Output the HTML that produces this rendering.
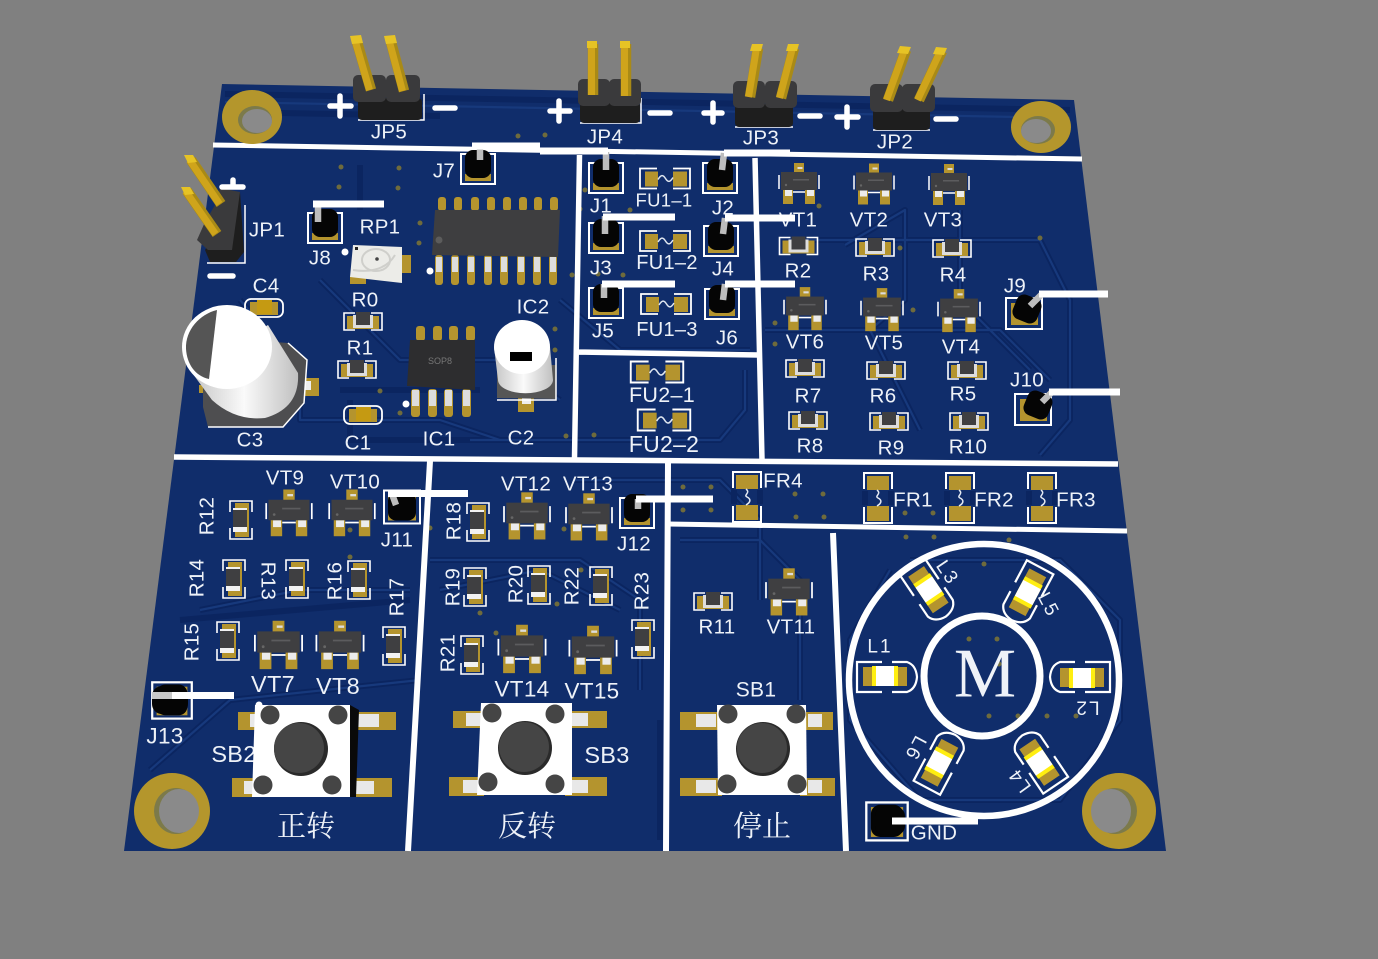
<!DOCTYPE html>
<html><head><meta charset="utf-8">
<style>
html,body{margin:0;padding:0;background:#808080}
svg{display:block}
text{font-family:"Liberation Sans","Noto Sans CJK SC",sans-serif;fill:#eef2f8;font-size:20.5px;text-anchor:middle;dominant-baseline:central;letter-spacing:.3px}
.s{font-size:19px;letter-spacing:2px}
.b{font-size:23.5px}
.c{font-family:"Liberation Serif","Noto Serif CJK SC",serif;font-size:29px;letter-spacing:0}
</style></head><body>
<svg width="1378" height="959" viewBox="0 0 1378 959" xmlns="http://www.w3.org/2000/svg">
<defs>
<linearGradient id="cy" x1="0" y1="0" x2="1" y2="0"><stop offset="0" stop-color="#c4c4c4"/><stop offset=".5" stop-color="#fafafa"/><stop offset="1" stop-color="#c0c0c0"/></linearGradient>
<g id="r"><path d="M-8,-8H-19V9H-8M8,-8H19V9H8" fill="none" stroke="#fff" stroke-width="1.6"/><rect x="-16" y="-5" width="32" height="13" fill="#b4942e"/><rect x="-10" y="-6" width="20" height="13" fill="#ddd"/><rect x="-7" y="-9" width="14" height="13" fill="#3f3f41"/></g>
<g id="v"><path d="M-11,-8V-19H11V-8M-11,8V19H11V8" fill="none" stroke="#fff" stroke-width="1.6"/><rect x="-6" y="-17" width="14" height="34" fill="#b4942e"/><rect x="-8" y="-12" width="14" height="24" fill="#f2f2f2"/><rect x="-8" y="-10" width="14" height="17" fill="#3f3f41"/></g>
<g id="c"><rect x="-19" y="-9" width="38" height="18" rx="6" fill="none" stroke="#fff" stroke-width="1.8"/><rect x="-14" y="-6" width="28" height="13" fill="#b4942e"/><rect x="-7" y="-8" width="15" height="14" fill="#c59a12"/></g>
<g id="q"><path d="M-20,-6V8M20,-6V8" fill="none" stroke="#fff" stroke-width="1.5"/><path d="M-6,11H6" stroke="#fff" stroke-width="1.5"/><rect x="-5" y="-18" width="10" height="10" fill="#b4942e"/><rect x="-1.5" y="-14" width="5" height="2" fill="#ddd"/><rect x="-16" y="8" width="10" height="15" fill="#b4942e"/><rect x="6" y="8" width="10" height="15" fill="#b4942e"/><rect x="-14" y="9" width="7" height="6" fill="#ececec"/><rect x="8" y="9" width="7" height="6" fill="#ececec"/><rect x="-18" y="-9" width="36" height="18" fill="#3f3f41"/><circle cx="-13" cy="4" r="1.2" fill="#666"/><rect x="-6" y="-2" width="16" height="1.5" fill="#5c5c5e"/></g>
<g id="f"><path d="M-8,-10H-25V10H-8M8,-10H25V10H8" fill="none" stroke="#fff" stroke-width="1.8"/><rect x="-20" y="-7" width="13" height="15" fill="#b4942e"/><rect x="8" y="-7" width="14" height="15" fill="#b4942e"/><path d="M-7,1C-4,-4 -2,-4 0.5,0S5,4 8,-1" fill="none" stroke="#dfe6f0" stroke-width="1.5"/></g>
<g id="fr"><path d="M-14,-9V-25H14V-9M-14,9V25H14V9" fill="none" stroke="#fff" stroke-width="2"/><rect x="-11" y="-22" width="22" height="14" fill="#b4942e"/><rect x="-11" y="8" width="22" height="15" fill="#b4942e"/><path d="M-16,-7H-10V7H-16ZM16,-7H10V7H16Z" fill="#0b2560"/><path d="M-1,-8C4,-4 -4,-2 0,0S4,5 -1,8" fill="none" stroke="#e5eaf2" stroke-width="1.5"/></g>
<g id="j"><rect x="-17" y="-15" width="34" height="30" fill="none" stroke="#fff" stroke-width="2"/><rect x="-13" y="5" width="26" height="7" fill="#b4942e"/><rect x="-13" y="-19" width="26" height="28" rx="8" fill="#050505"/></g>
<g id="k"><rect x="-18" y="-17" width="36" height="33" fill="none" stroke="#fff" stroke-width="2"/><rect x="-14" y="-13" width="28" height="26" fill="#b4942e"/><rect x="-14" y="-15" width="28" height="28" rx="8" fill="#050505"/></g>
<g id="l"><path d="M-3,-15H-28V15H-3M7,-15H22Q31,-12 32,0Q31,12 22,15H7" fill="none" stroke="#fff" stroke-width="2.2"/><rect x="-22" y="-10" width="44" height="19" fill="#b4942e"/><rect x="-13" y="-11" width="26" height="20" fill="#ffee10"/><rect x="-9" y="-11" width="18" height="20" fill="#fff"/></g>
</defs>
<rect width="1378" height="959" fill="#808080"/>
<polygon points="222,84 1074,100 1166,851 124,851" fill="#102d6b"/>
<!-- traces -->
<g fill="none" stroke-linejoin="round">
<g stroke="#0b2560" stroke-width="6">
<path d="M225,94L1070,110M225,112L440,116M575,480H720L760,520V600M430,560H580L640,600V690M200,610L300,590H410M150,770L230,700L420,680M560,300L620,350H750M320,280L400,360H500L560,400M240,300L300,370V420H440L500,440M800,240H1040M1040,240L1070,300V420L1040,455M765,330H1000L1050,380M890,570L850,640V720L920,800H1060L1120,720V620L1060,560H910M360,165V210M680,540H760L800,580V700M470,440H720L745,410V370M440,590L540,570L620,610M660,720V840M180,620L410,600M340,390H480M350,400V440H470M845,245L905,210V300L870,330L920,430M960,210V300L1030,370"/>
</g>
<g stroke="#17397c" stroke-width="2.2">
<path d="M225,102L1070,118M575,480H720L760,520V600M430,560H580L640,600V690M200,610L300,590H410M150,770L230,700L420,680M560,300L620,350H750M320,280L400,360H500L560,400M240,300L300,370V420H440L500,440M800,240H1040M1040,240L1070,300V420L1040,455M765,330H1000L1050,380M890,570L850,640V720L920,800H1060L1120,720V620L1060,560H910M680,540H760L800,580V700M470,440H720L745,410V370M440,590L540,570L620,610M845,245L905,210V300L870,330L920,430M960,210V300L1030,370"/>
</g></g>
<!-- vias -->
<g fill="#6f6b3c">
<circle cx="341" cy="167" r="2.5"/><circle cx="399" cy="168" r="2.5"/><circle cx="339" cy="187" r="2.5"/><circle cx="398" cy="188" r="2.5"/><circle cx="420" cy="223" r="2.5"/><circle cx="419" cy="243" r="2.5"/><circle cx="580" cy="209" r="2.5"/><circle cx="572" cy="275" r="2.5"/><circle cx="555" cy="329" r="2.5"/><circle cx="555" cy="350" r="2.5"/><circle cx="380" cy="391" r="2.5"/><circle cx="400" cy="413" r="2.5"/><circle cx="566" cy="436" r="2.5"/><circle cx="594" cy="435" r="2.5"/><circle cx="518" cy="136" r="2.5"/><circle cx="545" cy="135" r="2.5"/><circle cx="683" cy="487" r="2.5"/><circle cx="711" cy="487" r="2.5"/><circle cx="683" cy="510" r="2.5"/><circle cx="711" cy="510" r="2.5"/><circle cx="795" cy="494" r="2.5"/><circle cx="823" cy="494" r="2.5"/><circle cx="796" cy="517" r="2.5"/><circle cx="824" cy="517" r="2.5"/><circle cx="905" cy="513" r="2.5"/><circle cx="933" cy="513" r="2.5"/><circle cx="906" cy="537" r="2.5"/><circle cx="934" cy="537" r="2.5"/><circle cx="1009" cy="540" r="2.5"/><circle cx="984" cy="564" r="2.5"/><circle cx="969" cy="639" r="2.5"/><circle cx="997" cy="639" r="2.5"/><circle cx="971" cy="664" r="2.5"/><circle cx="999" cy="664" r="2.5"/><circle cx="989" cy="716" r="2.5"/><circle cx="1018" cy="716" r="2.5"/><circle cx="1047" cy="716" r="2.5"/><circle cx="1076" cy="716" r="2.5"/><circle cx="900" cy="248" r="2.5"/><circle cx="1040" cy="238" r="2.5"/><circle cx="913" cy="310" r="2.5"/><circle cx="819" cy="206" r="2.5"/><circle cx="775" cy="323" r="2.5"/><circle cx="775" cy="344" r="2.5"/><circle cx="564" cy="529" r="2.5"/><circle cx="480" cy="613" r="2.5"/><circle cx="557" cy="604" r="2.5"/><circle cx="496" cy="633" r="2.5"/><circle cx="581" cy="570" r="2.5"/><circle cx="585" cy="190" r="2.5"/><circle cx="630" cy="210" r="2.5"/><circle cx="598" cy="274" r="2.5"/><circle cx="623" cy="275" r="2.5"/><circle cx="350" cy="557" r="2.5"/><circle cx="430" cy="528" r="2.5"/><circle cx="350" cy="530" r="2.5"/>
</g>
<!-- silkscreen lines -->
<g stroke="#fff" fill="none">
<path d="M213,145L1082,159" stroke-width="5"/>
<path d="M174,457L1118,464" stroke-width="5.5"/>
<path d="M579.5,155L574.5,458M755,158L762,460M578,352L758,355" stroke-width="5.5"/>
<path d="M430,461L408,851M668,463L666,851M833,533L846,851" stroke-width="6"/>
<path d="M668,524L1127,531" stroke-width="5"/>
<ellipse cx="984" cy="680" rx="135" ry="136" stroke-width="6.5"/>
<ellipse cx="982" cy="676" rx="58" ry="60" stroke-width="7"/>
</g>
<!-- mounting holes -->
<ellipse cx="252" cy="117" rx="30" ry="27" fill="#b4962c"/><ellipse cx="255" cy="120" rx="17" ry="14" fill="#7c7a4a"/><ellipse cx="257" cy="121" rx="15" ry="12" fill="#8a8a8a"/>
<ellipse cx="1041" cy="127" rx="30" ry="26" fill="#b4962c"/><ellipse cx="1038" cy="130" rx="17" ry="14" fill="#7c7a4a"/><ellipse cx="1036" cy="131" rx="15" ry="12" fill="#8a8a8a"/>
<ellipse cx="172" cy="811" rx="38" ry="38" fill="#b4962c"/><ellipse cx="176" cy="811" rx="22" ry="23" fill="#7c7a4a"/><ellipse cx="179" cy="811" rx="20" ry="22" fill="#8a8a8a"/>
<ellipse cx="1119" cy="811" rx="37" ry="38" fill="#b4962c"/><ellipse cx="1115" cy="811" rx="22" ry="23" fill="#7c7a4a"/><ellipse cx="1111" cy="811" rx="20" ry="22" fill="#8a8a8a"/>
<!-- SOT -->
<use href="#q" transform="translate(799,181)"/><use href="#q" transform="translate(874,181.5)"/><use href="#q" transform="translate(949,182)"/>
<use href="#q" transform="translate(805,306) scale(1.05)"/><use href="#q" transform="translate(882,307) scale(1.05)"/><use href="#q" transform="translate(959,308) scale(1.05)"/>
<use href="#q" transform="translate(289,510) scale(1.14)"/><use href="#q" transform="translate(352,510) scale(1.14)"/><use href="#q" transform="translate(278.5,642) scale(1.18)"/><use href="#q" transform="translate(340,642) scale(1.18)"/>
<use href="#q" transform="translate(527,513) scale(1.15)"/><use href="#q" transform="translate(589,514) scale(1.15)"/><use href="#q" transform="translate(522,646) scale(1.18)"/><use href="#q" transform="translate(593,647) scale(1.18)"/><use href="#q" transform="translate(789,589) scale(1.15)"/>
<!-- horizontal R -->
<use href="#r" x="798.5" y="245.5"/><use href="#r" x="875" y="247"/><use href="#r" x="952" y="248"/>
<use href="#r" x="805" y="368"/><use href="#r" x="886" y="370"/><use href="#r" x="967" y="370"/>
<use href="#r" x="808" y="420"/><use href="#r" x="889" y="421"/><use href="#r" x="969" y="421"/>
<use href="#r" x="713" y="601"/><use href="#r" x="363" y="321"/><use href="#r" x="357" y="369"/>
<use href="#c" x="363" y="415"/><use href="#c" x="264" y="308"/>
<!-- vertical R -->
<use href="#v" x="241" y="520"/><use href="#v" x="234" y="579"/><use href="#v" x="297" y="579"/><use href="#v" x="359" y="580"/><use href="#v" x="228" y="641"/><use href="#v" x="394" y="646"/>
<use href="#v" x="478" y="522"/><use href="#v" x="475" y="587"/><use href="#v" x="539" y="585"/><use href="#v" x="601" y="586"/><use href="#v" x="643" y="639"/><use href="#v" x="472" y="655"/>
<!-- fuses -->
<use href="#f" x="665" y="178.5"/><use href="#f" x="665" y="241"/><use href="#f" x="666" y="304"/><use href="#f" transform="translate(657,372) scale(1.05)"/><use href="#f" transform="translate(664,420) scale(1.05)"/>
<use href="#fr" x="747" y="497"/><use href="#fr" x="878" y="498"/><use href="#fr" x="960" y="498"/><use href="#fr" x="1042" y="498"/>
<!-- LEDs -->
<use href="#l" x="885" y="677"/><use href="#l" transform="translate(1082,677) rotate(180)"/>
<use href="#l" transform="translate(928,590) rotate(56)"/><use href="#l" transform="translate(1027,592) rotate(118)"/>
<use href="#l" transform="translate(940,763) rotate(-62)"/><use href="#l" transform="translate(1040,762) rotate(-124)"/>
<!-- SOP16 -->
<g fill="#b4942e">
<rect x="438" y="197" width="8" height="14" rx="3"/><rect x="454" y="197" width="8" height="14" rx="3"/><rect x="471" y="197" width="8" height="14" rx="3"/><rect x="487" y="197" width="8" height="14" rx="3"/><rect x="503" y="197" width="8" height="14" rx="3"/><rect x="519" y="197" width="8" height="14" rx="3"/><rect x="534" y="197" width="8" height="14" rx="3"/><rect x="550" y="197" width="8" height="14" rx="3"/>
<rect x="435" y="255" width="8" height="30" rx="3"/><rect x="451" y="255" width="8" height="30" rx="3"/><rect x="467" y="255" width="8" height="30" rx="3"/><rect x="484" y="255" width="8" height="30" rx="3"/><rect x="500" y="255" width="8" height="30" rx="3"/><rect x="517" y="255" width="8" height="30" rx="3"/><rect x="533" y="255" width="8" height="30" rx="3"/><rect x="549" y="255" width="8" height="30" rx="3"/>
</g>
<g fill="#ddd"><rect x="436" y="257" width="6" height="15"/><rect x="452" y="257" width="6" height="15"/><rect x="468" y="257" width="6" height="15"/><rect x="485" y="257" width="6" height="15"/><rect x="501" y="257" width="6" height="15"/><rect x="518" y="257" width="6" height="15"/><rect x="534" y="257" width="6" height="15"/><rect x="550" y="257" width="6" height="15"/></g>
<polygon points="435,210 560,210 558,257 432,255" fill="#3e3e40"/>
<circle cx="439" cy="240" r="3.5" fill="#5c5c5c"/>
<circle cx="430" cy="271" r="3.5" fill="#fff"/>
<!-- SOP8 -->
<g fill="#b4942e"><rect x="416" y="326" width="9" height="15" rx="3"/><rect x="433" y="326" width="9" height="15" rx="3"/><rect x="449" y="326" width="9" height="15" rx="3"/><rect x="466" y="326" width="9" height="15" rx="3"/><rect x="411" y="389" width="9" height="28" rx="3"/><rect x="428" y="389" width="9" height="28" rx="3"/><rect x="444" y="389" width="9" height="28" rx="3"/><rect x="462" y="389" width="9" height="28" rx="3"/></g>
<g fill="#ddd"><rect x="412" y="390" width="7" height="16"/><rect x="429" y="390" width="7" height="16"/><rect x="445" y="390" width="7" height="16"/><rect x="463" y="390" width="7" height="16"/></g>
<polygon points="410,340 475,340 475,390 407,386" fill="#2d2d2f"/>
<circle cx="406" cy="404" r="3.5" fill="#fff"/>
<text x="440" y="361" style="font-size:9px;fill:#777;letter-spacing:0">SOP8</text>
<!-- C2 cap -->
<rect x="518" y="397" width="16" height="15" fill="#b4942e"/><rect x="522" y="398" width="9" height="6" fill="#eee"/>
<path d="M497,398V365H556V399Z" fill="#565656"/><path d="M556,358V400H497" fill="none" stroke="#fff" stroke-width="1.5"/>
<path d="M494,347L498,380A27,13 0 0 0 553,380L550,347Z" fill="url(#cy)"/>
<ellipse cx="522" cy="347" rx="28" ry="27" fill="#fff"/>
<rect x="510" y="352" width="22" height="9" fill="#000"/>
<!-- C3 -->
<rect x="199" y="385" width="8" height="8" fill="#b4942e"/>
<rect x="301" y="378" width="18" height="18" fill="#b4942e"/><rect x="301" y="381" width="10" height="9" fill="#eee"/>
<polygon points="288,343 307,360 304,403 283,427 208,427 203,407 203,385 250,340" fill="#4e4e50"/>
<path d="M288,343L307,360L304,403L283,427H208" fill="none" stroke="#fff" stroke-width="1.5"/>
<path d="M190,370L212,400Q235,421 265,418Q300,408 298,373L268,325Z" fill="url(#cy)"/>
<ellipse cx="227" cy="347" rx="45" ry="42" fill="#fff"/>
<path d="M217,310L209,379C195,376 187,364 186,349C185,330 200,314 217,310Z" fill="#555"/>
<!-- RP1 -->
<rect x="350" y="276" width="16" height="8" fill="#b4942e"/><rect x="402" y="255" width="9" height="18" fill="#b4942e"/>
<polygon points="353,245 402,247 402,283 350,277" fill="#ecece8"/>
<ellipse cx="376" cy="260" rx="14" ry="11" fill="none" stroke="#cfcfcb" stroke-width="2"/><path d="M353,270C365,272 385,272 395,255" fill="none" stroke="#cfcfcb" stroke-width="2"/><circle cx="377" cy="259" r="1.8" fill="#444"/><rect x="355" y="247" width="3" height="3" fill="#222"/>
<circle cx="345" cy="252" r="3.5" fill="#fff"/>
<text class="b" x="234" y="754">SB2</text>
<!-- Buttons -->
<g fill="#b4942e">
<rect x="238" y="712" width="30" height="18"/><rect x="350" y="712" width="46" height="18"/><rect x="232" y="778" width="30" height="19"/><rect x="346" y="778" width="46" height="19"/>
<rect x="453" y="711" width="35" height="17"/><rect x="566" y="711" width="41" height="17"/><rect x="449" y="777" width="35" height="19"/><rect x="565" y="777" width="42" height="19"/>
<rect x="680" y="712" width="42" height="18"/><rect x="801" y="712" width="32" height="18"/><rect x="680" y="778" width="42" height="18"/><rect x="800" y="778" width="35" height="18"/>
</g>
<g fill="#e8e8e8"><rect x="357" y="714" width="22" height="13"/><rect x="352" y="781" width="22" height="13"/><rect x="250" y="714" width="10" height="13"/><rect x="244" y="781" width="12" height="13"/><rect x="466" y="713" width="16" height="13"/><rect x="572" y="713" width="16" height="13"/><rect x="463" y="780" width="16" height="13"/><rect x="572" y="780" width="16" height="13"/><rect x="696" y="714" width="20" height="13"/><rect x="808" y="714" width="14" height="13"/><rect x="696" y="780" width="20" height="13"/><rect x="808" y="780" width="14" height="13"/></g>
<polygon points="350,705 359,710 356,797 345,797" fill="#0a0a0a"/>
<polygon points="255,705 350,705 350,797 252,797" fill="#fff"/>
<circle cx="270" cy="715" r="9.5" fill="#454545"/><circle cx="338" cy="715" r="9.5" fill="#454545"/><circle cx="263" cy="785" r="9.5" fill="#454545"/><circle cx="332" cy="785" r="9.5" fill="#454545"/>
<circle cx="301" cy="749" r="27" fill="#2a2a2a"/><circle cx="299" cy="748" r="25" fill="#454545"/>
<polygon points="481,703 572,703 572,795 477,795" fill="#fff"/>
<circle cx="492" cy="713" r="9.5" fill="#454545"/><circle cx="555" cy="714" r="9.5" fill="#454545"/><circle cx="488" cy="782" r="9.5" fill="#454545"/><circle cx="555" cy="784" r="9.5" fill="#454545"/>
<circle cx="525" cy="748" r="27" fill="#2a2a2a"/><circle cx="524" cy="747" r="25" fill="#454545"/>
<polygon points="717,705 806,705 807,795 718,795" fill="#fff"/>
<circle cx="728" cy="714" r="9.5" fill="#454545"/><circle cx="796" cy="714" r="9.5" fill="#454545"/><circle cx="727" cy="784" r="9.5" fill="#454545"/><circle cx="797" cy="784" r="9.5" fill="#454545"/>
<circle cx="763" cy="749" r="27" fill="#2a2a2a"/><circle cx="762" cy="748" r="25" fill="#454545"/>
<!-- Jumpers -->
<use href="#j" x="478" y="169"/><use href="#j" x="606" y="178"/><use href="#j" x="720" y="178"/><use href="#j" x="606" y="238"/><use href="#j" x="721" y="241"/><use href="#j" x="606" y="303"/><use href="#j" x="722" y="304"/><use href="#j" x="325" y="228"/><use href="#j" x="637" y="513"/>
<use href="#k" x="402" y="507.5"/><use href="#k" transform="translate(172,701) scale(1.1)"/><use href="#k" transform="translate(887,822) scale(1.15)"/>
<rect x="875" y="807" width="30" height="28" rx="9" fill="#050505"/>
<rect x="152" y="686" width="36" height="28" rx="10" fill="#050505"/>
<rect x="1006" y="298" width="36" height="31" fill="none" stroke="#fff" stroke-width="2"/><rect x="1011" y="303" width="27" height="22" fill="#b4942e"/><rect x="1014" y="296" width="26" height="26" rx="8" transform="rotate(22 1027 309)" fill="#050505"/>
<rect x="1015" y="394" width="36" height="31" fill="none" stroke="#fff" stroke-width="2"/><rect x="1020" y="399" width="27" height="22" fill="#b4942e"/><rect x="1025" y="392" width="26" height="26" rx="8" transform="rotate(22 1038 405)" fill="#050505"/>
<!-- headers -->
<path d="M358,120H424V94M580,123H641V98M735,127H793M873,130H930M207,263H245V205" fill="none" stroke="#fff" stroke-width="1.5"/>
<g fill="#1e1e1e"><rect x="358" y="98" width="64" height="22" rx="4"/><rect x="580" y="102" width="60" height="21" rx="4"/><rect x="735" y="104" width="58" height="23" rx="4"/><rect x="873" y="108" width="57" height="22" rx="4"/><path d="M240,192L244,252L236,262H210L205,250Z"/></g>
<g fill="#3a3a3c"><rect x="353" y="75" width="33" height="27" rx="5"/><rect x="386" y="75" width="34" height="27" rx="5"/><rect x="578" y="79" width="32" height="27" rx="5"/><rect x="609" y="79" width="32" height="27" rx="5"/><rect x="733" y="81" width="32" height="27" rx="5"/><rect x="765" y="81" width="32" height="27" rx="5"/><rect x="870" y="84" width="33" height="28" rx="5"/><rect x="902" y="84" width="33" height="28" rx="5"/><path d="M220,188L240,192L232,250H208L197,240L205,222L215,205Z"/></g>
<g fill="none" stroke="#a98a16" stroke-width="10.5">
<path d="M357,42L371,90M391,42L404,91M593,44V95M626,44V96M758,48L750,97M794,48L781,98M906,50L888,100M942,51L919,100M191,160L221,204M187,191L217,234"/>
</g>
<g fill="none" stroke="#cfa41b" stroke-width="7" transform="translate(-1.5,0)">
<path d="M357,42L371,90M391,42L404,91M593,44V95M626,44V96M758,48L750,97M794,48L781,98M906,50L888,100M942,51L919,100M191,160L221,204M187,191L217,234"/>
</g>
<g fill="#e6c325"><polygon points="350,36 361,35 363,43 352,44"/><polygon points="384,36 395,35 397,43 386,44"/><rect x="587" y="41" width="10" height="7"/><rect x="620" y="41" width="10" height="7"/><polygon points="752,44 763,44 761,51 750,51"/><polygon points="788,44 799,44 797,51 786,51"/><polygon points="900,46 911,47 908,54 897,53"/><polygon points="936,47 947,48 944,55 933,54"/><polygon points="184,155 193,155 197,162 188,163"/><polygon points="181,187 190,187 194,194 185,195"/></g>
<!-- plus minus -->
<g stroke="#fff" stroke-width="5.5" stroke-linecap="round" fill="none">
<path d="M330,106H351M340,96V116M435,108H455M550,111H570M559,101V121M650,113H670M704,113H722M713,103V122M800,116H820M837,117H858M847,107V127M936,119H956M222,187H243M233,180V187M210,276H233"/>
</g>
<circle cx="259" cy="705" r="3.5" fill="#fff"/>
<!-- labels -->
<text x="389" y="132">JP5</text><text x="605" y="137">JP4</text><text x="761" y="138">JP3</text><text x="895" y="142">JP2</text><text x="267" y="230">JP1</text>
<text x="444" y="171">J7</text><text x="601" y="206">J1</text><text x="723" y="208">J2</text><text x="601" y="268">J3</text><text x="723" y="269">J4</text><text x="603" y="331">J5</text><text x="727" y="338">J6</text><text x="320" y="258">J8</text>
<text x="380" y="227">RP1</text><text x="266" y="286">C4</text><text x="365" y="300">R0</text><text x="360" y="348">R1</text><text x="250" y="440">C3</text><text x="358" y="443">C1</text><text x="439" y="439">IC1</text><text x="533" y="307">IC2</text><text x="521" y="438">C2</text>
<text x="664" y="200" style="font-size:18.5px">FU1–1</text><text x="667" y="263" style="font-size:20px">FU1–2</text><text x="667" y="330" style="font-size:20px">FU1–3</text><text x="662" y="395" style="font-size:21.5px">FU2–1</text><text x="664" y="444" style="font-size:23px">FU2–2</text>
<text x="798" y="220">VT1</text><text x="869" y="220">VT2</text><text x="943" y="220">VT3</text><text x="798" y="271">R2</text><text x="876" y="274">R3</text><text x="953" y="275">R4</text>
<text x="805" y="342">VT6</text><text x="884" y="343">VT5</text><text x="961" y="347">VT4</text><text x="808" y="396">R7</text><text x="883" y="396">R6</text><text x="963" y="394">R5</text><text x="810" y="446">R8</text><text x="891" y="448">R9</text><text x="968" y="447">R10</text>
<text x="1015" y="286">J9</text><text x="1027" y="380">J10</text><text x="783" y="481">FR4</text><text x="913" y="500">FR1</text><text x="994" y="500">FR2</text><text x="1076" y="500">FR3</text>
<text x="285" y="478">VT9</text><text x="355" y="482">VT10</text><text x="526" y="484">VT12</text><text x="588" y="484">VT13</text><text x="397" y="540">J11</text><text x="634" y="544">J12</text>
<text transform="translate(207,516) rotate(-90)">R12</text><text transform="translate(197,578) rotate(-90)">R14</text><text transform="translate(268,581) rotate(90)">R13</text><text transform="translate(335,581) rotate(-90)">R16</text><text transform="translate(397,597) rotate(-90)">R17</text><text transform="translate(192,642) rotate(-90)">R15</text>
<text transform="translate(454,521) rotate(-90)">R18</text><text transform="translate(453,587) rotate(-90)">R19</text><text transform="translate(516,584) rotate(-90)">R20</text><text transform="translate(572,586) rotate(-90)">R22</text><text transform="translate(642,591) rotate(-90)">R23</text><text transform="translate(448,653) rotate(-90)">R21</text>
<text class="b" x="273" y="684">VT7</text><text class="b" x="338" y="686">VT8</text><text x="522" y="689" style="font-size:22.5px">VT14</text><text x="592" y="691" style="font-size:22.5px">VT15</text><text x="717" y="627">R11</text><text x="791" y="627">VT11</text>
<text x="756" y="690" style="font-size:21px">SB1</text><text class="b" x="607" y="755">SB3</text><text x="165" y="736" style="font-size:22.5px">J13</text><text x="934" y="833">GND</text>
<text class="s" x="880" y="647">L1</text><text class="s" transform="translate(1087,707) rotate(180)">L2</text><text class="s" transform="translate(947,573) rotate(56)">L3</text><text class="s" transform="translate(1048,605) rotate(62)">L5</text><text class="s" transform="translate(915,748) rotate(118)">L6</text><text class="s" transform="translate(1020,780) rotate(-126)">L4</text>
<text x="985" y="674" style="font-family:'Liberation Serif',serif;font-size:70px;letter-spacing:0">M</text>
<text class="c" x="306" y="827">正转</text><text class="c" x="527" y="827">反转</text><text class="c" x="762" y="827">停止</text>
<!-- wires -->
<g stroke="#bdbdbd" stroke-width="6.5" fill="none">
<path d="M480,146V160M606,152V170M724,153L722,170M605,216V234M725,218L723,234M604,284V298M725,284L723,300M318,205V222M1030,306L1042,294M1042,402L1052,392M392,494L396,505M638,499V509"/>
</g>
<g stroke="#fff" stroke-width="7" fill="none">
<path d="M472,146H540M540,151H608M724,153H790M603,217H675M725,218H795M602,284H675M725,284H795M313,204H384M1039,294H1108M1049,392H1120M388,493.5H468M636,499H713M160,695.5H234M892,821H978"/>
</g>
<path d="M152,695.5H172" stroke="#c9c9c9" stroke-width="7"/>
</svg>
</body></html>
